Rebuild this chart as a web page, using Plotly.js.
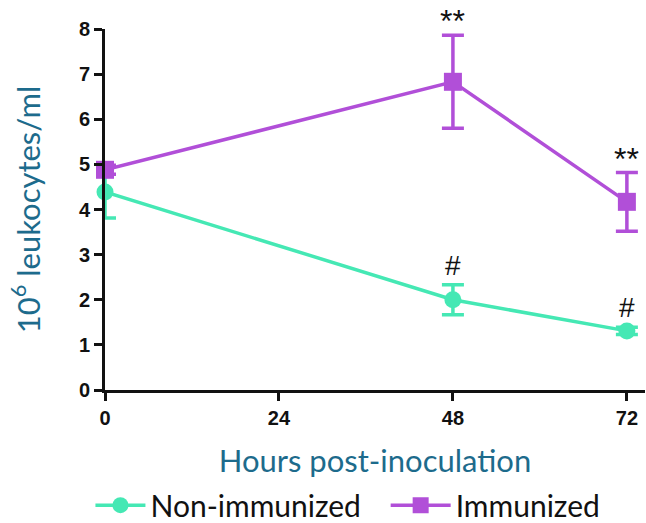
<!DOCTYPE html>
<html><head><meta charset="utf-8">
<script src="https://cdn.plot.ly/plotly-3.0.1.min.js"></script>
<style>html,body{margin:0;padding:0;background:#fff;}</style>
</head><body>
<div id="chart" style="width:646px;height:523px;"></div>
<script>
const hours = [0, 48, 72];
const nonImmunized = [4.39, 2.0, 1.31];
const nonImmunizedErr = [0.58, 0.33, 0.08];
const immunized = [4.88, 6.83, 4.17];
const immunizedErr = [0.1, 1.03, 0.65];
const xTicks = [0, 24, 48, 72];
const yTicks = [0, 1, 2, 3, 4, 5, 6, 7, 8];
const marks = [
  {x: 48, y: immunized[1] + immunizedErr[1], text: '**'},
  {x: 72, y: immunized[2] + immunizedErr[2], text: '**'},
  {x: 48, y: nonImmunized[1] + nonImmunizedErr[1], text: '#'},
  {x: 72, y: nonImmunized[2] + nonImmunizedErr[2], text: '#'}
];

const green = '#45e8b4';
const purple = '#b14fd8';

const traces = [
  {
    x: hours, y: nonImmunized, name: 'Non-immunized', type: 'scatter', mode: 'lines+markers',
    line: {color: green, width: 3.5},
    marker: {color: green, symbol: 'circle', size: 17},
    error_y: {type: 'data', array: nonImmunizedErr, visible: true, color: green, thickness: 3.5, width: 11},
    cliponaxis: false, legend: 'legend'
  },
  {
    x: hours, y: immunized, name: 'Immunized', type: 'scatter', mode: 'lines+markers',
    line: {color: purple, width: 3.5},
    marker: {color: purple, symbol: 'square', size: 18},
    error_y: {type: 'data', array: immunizedErr, visible: true, color: purple, thickness: 3.5, width: 11},
    cliponaxis: false, legend: 'legend2'
  }
];

const annotations = marks.map(m => ({
  x: m.x, y: m.y, xref: 'x', yref: 'y', text: m.text, showarrow: false,
  yanchor: 'bottom', yshift: m.text === '**' ? -6 : 2,
  font: {family: 'Liberation Sans, Arial', size: m.text === '**' ? 32 : 28, color: '#111'}
}));

const legendFont = {family: 'Lato, Carlito, sans-serif', size: 30, color: '#111'};

const layout = {
  width: 646, height: 523,
  margin: {l: 105, r: 1, t: 29, b: 133, autoexpand: false},
  paper_bgcolor: '#fff', plot_bgcolor: '#fff',
  showlegend: true,
  legend: {orientation: 'h', x: 0.14, xanchor: 'left', xref: 'container', y: 0.034, yanchor: 'middle', yref: 'container',
    font: legendFont, itemwidth: 50},
  legend2: {orientation: 'h', x: 0.597, xanchor: 'left', xref: 'container', y: 0.034, yanchor: 'middle', yref: 'container',
    font: legendFont, itemwidth: 60},
  xaxis: {
    range: [0, 74.5], tickvals: xTicks, ticktext: xTicks.map(String), automargin: false,
    showline: true, linecolor: '#111', linewidth: 3, ticks: 'outside', ticklen: 8, tickwidth: 3, tickcolor: '#111',
    showgrid: false, zeroline: false,
    tickfont: {family: 'Liberation Sans, Arial', size: 20, color: '#111', weight: 'bold'},
    title: {text: 'Hours post-inoculation', standoff: 29,
      font: {family: 'Lato, Carlito, sans-serif', size: 31, color: '#1d6b8c'}}
  },
  yaxis: {
    range: [0, 8], tickvals: yTicks, automargin: false,
    showline: true, linecolor: '#111', linewidth: 3, ticks: 'outside', ticklen: 8, tickwidth: 3, tickcolor: '#111',
    showgrid: false, zeroline: false,
    tickfont: {family: 'Liberation Sans, Arial', size: 20, color: '#111', weight: 'bold'},
    title: {text: '10<sup>6</sup> leukocytes/ml', standoff: 30,
      font: {family: 'Lato, Carlito, sans-serif', size: 31, color: '#1d6b8c'}}
  },
  annotations: annotations
};

Plotly.newPlot('chart', traces, layout, {displayModeBar: false, staticPlot: true});
</script>
</body></html>
